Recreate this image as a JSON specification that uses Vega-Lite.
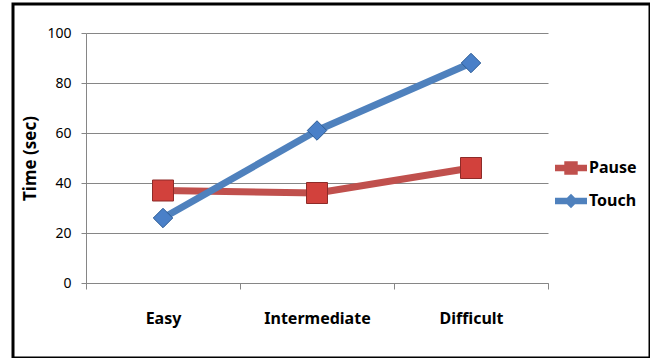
{
  "$schema": "https://vega.github.io/schema/vega-lite/v6.json",
  "width": 637,
  "height": 354,
  "autosize": {"type": "none"},
  "padding": {"left": 13, "top": 4, "right": 0, "bottom": 0},
  "background": "white",
  "config": {
    "view": {"stroke": "black", "strokeWidth": 3},
    "font": "Noto Sans"
  },
  "data": {
    "values": [
      {"level": "Easy", "series": "Pause", "time": 37},
      {"level": "Intermediate", "series": "Pause", "time": 36},
      {"level": "Difficult", "series": "Pause", "time": 46},
      {"level": "Easy", "series": "Touch", "time": 26},
      {"level": "Intermediate", "series": "Touch", "time": 61},
      {"level": "Difficult", "series": "Touch", "time": 88}
    ]
  },
  "encoding": {
    "x": {
      "field": "level",
      "type": "nominal",
      "sort": ["Easy", "Intermediate", "Difficult"],
      "scale": {"type": "band", "range": [73, 535], "paddingInner": 0, "paddingOuter": 0},
      "axis": {
        "title": null,
        "offset": -75,
        "tickBand": "extent",
        "grid": false,
        "domainColor": "#868686",
        "tickColor": "#868686",
        "tickSize": 6,
        "labelAngle": 0,
        "labelFont": "Noto Sans",
        "labelFontSize": 16,
        "labelFontWeight": "bold",
        "labelColor": "black",
        "labelPadding": 21
      }
    },
    "y": {
      "field": "time",
      "type": "quantitative",
      "scale": {"domain": [0, 100], "range": [279, 29], "nice": false},
      "axis": {
        "title": "Time (sec)",
        "offset": -73,
        "values": [0, 20, 40, 60, 80, 100],
        "grid": true,
        "gridColor": "#868686",
        "domainColor": "#868686",
        "tickColor": "#868686",
        "tickSize": 5,
        "labelPadding": 10,
        "labelFont": "Noto Sans",
        "labelFontSize": 14,
        "labelColor": "black",
        "titleFont": "Noto Sans",
        "titleFontSize": 17,
        "titleFontWeight": "bold",
        "titleColor": "black",
        "titlePadding": 7
      }
    }
  },
  "layer": [
    {
      "mark": {"type": "line", "strokeWidth": 7, "strokeCap": "round", "strokeJoin": "round"},
      "encoding": {
        "color": {
          "field": "series",
          "type": "nominal",
          "scale": {"domain": ["Pause", "Touch"], "range": ["#C0504D", "#4F81BD"]},
          "legend": {
            "orient": "none",
            "legendX": 542,
            "legendY": 148,
            "title": null,
            "padding": 0,
            "symbolSize": 1024,
            "symbolType": "square",
            "labelFont": "Noto Sans",
            "labelFontSize": 16,
            "labelFontWeight": "bold",
            "labelColor": "black",
            "labelOffset": 2,
            "rowPadding": 9,
            "encode": {
              "symbols": {
                "update": {
                  "shape": {"signal": "datum.value === 'Pause' ? 'M-1,-0.2L1,-0.2L1,0.2L-1,0.2Z M-0.42,-0.42L0.42,-0.42L0.42,0.42L-0.42,0.42Z' : 'M-1,-0.2L1,-0.2L1,0.2L-1,0.2Z M0,-0.45L0.45,0L0,0.45L-0.45,0Z'"},
                  "fill": {"signal": "datum.value === 'Pause' ? '#C0504D' : '#4F81BD'"},
                  "stroke": {"value": "transparent"},
                  "strokeWidth": {"value": 0},
                  "opacity": {"value": 1},
                  "fillOpacity": {"value": 1}
                }
              }
            }
          }
        }
      }
    },
    {
      "transform": [{"filter": "datum.series === 'Pause'"}],
      "mark": {"type": "point", "shape": "square", "filled": true, "opacity": 1, "size": 441, "fill": "#D2413C", "stroke": "#8E2B28", "strokeWidth": 1}
    },
    {
      "transform": [{"filter": "datum.series === 'Touch'"}],
      "mark": {"type": "point", "shape": "diamond", "filled": true, "opacity": 1, "size": 380, "fill": "#4A80C8", "stroke": "#2D5C96", "strokeWidth": 1}
    }
  ]
}
